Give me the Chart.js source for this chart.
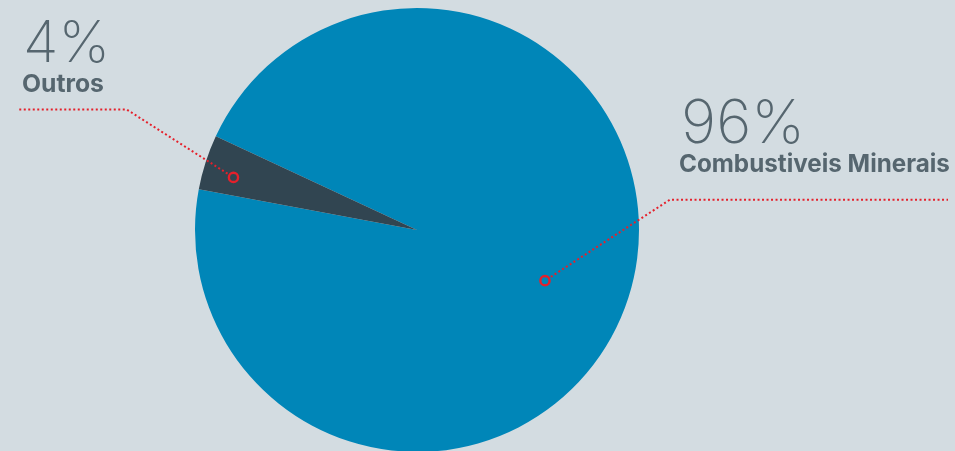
<!DOCTYPE html>
<html><head><meta charset="utf-8">
<script src="https://cdn.jsdelivr.net/npm/chart.js@4/dist/chart.umd.min.js"></script>
<style>
html,body{margin:0;padding:0;background:#d3dce1;overflow:hidden;width:955px;height:451px}
canvas{display:block}
</style></head>
<body>
<canvas id="c" width="955" height="460"></canvas>
<script>
const categories = ["Combustiveis Minerais", "Outros"];
const values = [96, 4];
const percentLabels = ["96%", "4%"];
const colors = ["#0086b8", "#314551"];

const leaderCfg = [
  {markerR:0.62, angleOffset:3.8, elbow:[125,-81], endX:948, pctX:681, pctY:143, pctW:124, nameX:679, nameY:172, nameW:271},
  {markerR:0.86, angleOffset:-1.8, elbow:[-107,-68], endX:18, pctX:23, pctY:62, pctW:87, nameX:22, nameY:92, nameW:82}
];

function fitFont(ctx, text, weight, family, targetW){
  ctx.font = weight + ' 40px ' + family;
  const w = ctx.measureText(text).width;
  const size = 40 * targetW / w;
  ctx.font = weight + ' ' + size.toFixed(2) + 'px ' + family;
}

const labelPlugin = {
  id:'labels',
  afterDatasetsDraw(chart){
    const ctx = chart.ctx;
    const meta = chart.getDatasetMeta(0);
    meta.data.forEach((arc, i) => {
      const c = leaderCfg[i];
      const p = arc.getProps(['x','y','startAngle','endAngle','outerRadius'], true);
      const mid = (p.startAngle + p.endAngle)/2 + c.angleOffset*Math.PI/180;
      const mx = p.x + Math.cos(mid)*p.outerRadius*c.markerR;
      const my = p.y + Math.sin(mid)*p.outerRadius*c.markerR;
      const ex = mx + c.elbow[0], ey = my + c.elbow[1];
      ctx.save();
      ctx.strokeStyle = '#e5202b';
      ctx.lineWidth = 2;
      ctx.setLineDash([2,2.5]);
      ctx.beginPath();
      const dx = ex-mx, dy = ey-my, L = Math.hypot(dx,dy);
      ctx.moveTo(mx + dx/L*7, my + dy/L*7);
      ctx.lineTo(ex, ey);
      ctx.lineTo(c.endX, ey);
      ctx.stroke();
      ctx.setLineDash([]);
      ctx.lineWidth = 2.4;
      ctx.beginPath();
      ctx.arc(mx, my, 4.6, 0, Math.PI*2);
      ctx.stroke();
      ctx.fillStyle = '#56666f';
      ctx.textBaseline = 'alphabetic';
      ctx.textAlign = 'left';
      fitFont(ctx, percentLabels[i], '200', 'Inter, Lato, sans-serif', c.pctW);
      ctx.fillText(percentLabels[i], c.pctX, c.pctY);
      fitFont(ctx, categories[i], '700', 'Inter, Lato, sans-serif', c.nameW);
      ctx.fillText(categories[i], c.nameX, c.nameY);
      ctx.restore();
    });
  }
};

new Chart(document.getElementById('c'), {
  type:'pie',
  data:{labels:categories, datasets:[{data:values, backgroundColor:colors, borderWidth:0, hoverOffset:0}]},
  options:{
    responsive:false, animation:false,
    rotation:295,
    layout:{padding:{left:195, right:316, top:8, bottom:8}},
    plugins:{legend:{display:false}, tooltip:{enabled:false}}
  },
  plugins:[labelPlugin]
});
</script>
</body></html>
